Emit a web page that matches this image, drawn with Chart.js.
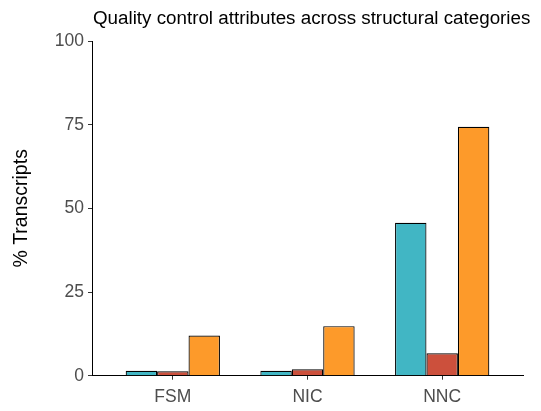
<!DOCTYPE html>
<html>
<head>
<meta charset="utf-8">
<title>Quality control attributes across structural categories</title>
<script src="https://cdn.jsdelivr.net/npm/chart.js@4.4.1/dist/chart.umd.min.js"></script>
<style>
  html, body { margin: 0; padding: 0; background: #ffffff; }
  canvas { display: block; }
</style>
</head>
<body>
<canvas id="chart" width="541" height="411"></canvas>
<script>
// Structural categories and the share of transcripts (%) flagged by each QC attribute
const categories = ['FSM', 'NIC', 'NNC'];
const attributeA = [1.5, 1.5, 45.7];
const attributeB = [1.3, 1.9, 6.7];
const attributeC = [12.0, 14.8, 74.4];
const yTicks = [0, 25, 50, 75, 100];

const chartTitle = 'Quality control attributes across structural categories';
const yTitle = '% Transcripts';

const FONT = '"Liberation Sans", Arial, Helvetica, sans-serif';

// Categories sit at x = 1..n on a linear axis with 0.6 units of room on each side
const toPoints = vals => vals.map((v, i) => ({ x: i + 1, y: v }));

// Left-aligned title placed over the plotting panel
const panelTitle = {
  id: 'panelTitle',
  afterDraw(chart) {
    const ctx = chart.ctx;
    ctx.save();
    ctx.font = '18.8px ' + FONT;
    ctx.fillStyle = '#000000';
    ctx.textAlign = 'left';
    ctx.textBaseline = 'alphabetic';
    ctx.fillText(chartTitle, chart.chartArea.left + 1, 23.5);
    ctx.restore();
  }
};

new Chart(document.getElementById('chart'), {
  type: 'bar',
  data: {
    datasets: [
      { label: 'A', data: toPoints(attributeA), backgroundColor: '#41B6C4' },
      { label: 'B', data: toPoints(attributeB), backgroundColor: '#CC503C' },
      { label: 'C', data: toPoints(attributeC), backgroundColor: '#FD9A2A' }
    ].map(d => Object.assign(d, { borderColor: '#000000', borderWidth: 1.2 }))
  },
  options: {
    responsive: false,
    animation: false,
    layout: { padding: { top: 41, right: 18, bottom: 0, left: 0 } },
    datasets: { bar: { categoryPercentage: 0.7, barPercentage: 1.0 } },
    plugins: {
      legend: { display: false },
      title: { display: false },
      tooltip: { enabled: false }
    },
    scales: {
      x: {
        type: 'linear',
        min: 0.4,
        max: 3.6,
        offset: false,
        afterBuildTicks(scale) {
          scale.ticks = categories.map((c, i) => ({ value: i + 1 }));
        },
        afterFit(scale) { scale.height = 35.3; },
        ticks: {
          callback: v => categories[v - 1],
          color: '#4D4D4D',
          font: { family: FONT, size: 17.5 },
          padding: 7,
          maxRotation: 0
        },
        grid: { display: true, offset: false, drawOnChartArea: false, drawTicks: true, tickLength: 4, color: '#333333' },
        border: { display: true, color: '#000000', width: 1 }
      },
      y: {
        type: 'linear',
        min: 0,
        max: 100,
        afterBuildTicks(scale) {
          scale.ticks = yTicks.map(v => ({ value: v }));
        },
        afterFit(scale) { scale.width = 92; },
        ticks: {
          color: '#4D4D4D',
          font: { family: FONT, size: 17.5 },
          padding: 4
        },
        grid: { display: true, drawOnChartArea: false, drawTicks: true, tickLength: 4, color: '#333333' },
        border: { display: true, color: '#000000', width: 1 },
        title: {
          display: true,
          text: yTitle,
          color: '#000000',
          font: { family: FONT, size: 19.5 },
          padding: { top: 10, bottom: 0 }
        }
      }
    }
  },
  plugins: [panelTitle]
});
</script>
</body>
</html>
